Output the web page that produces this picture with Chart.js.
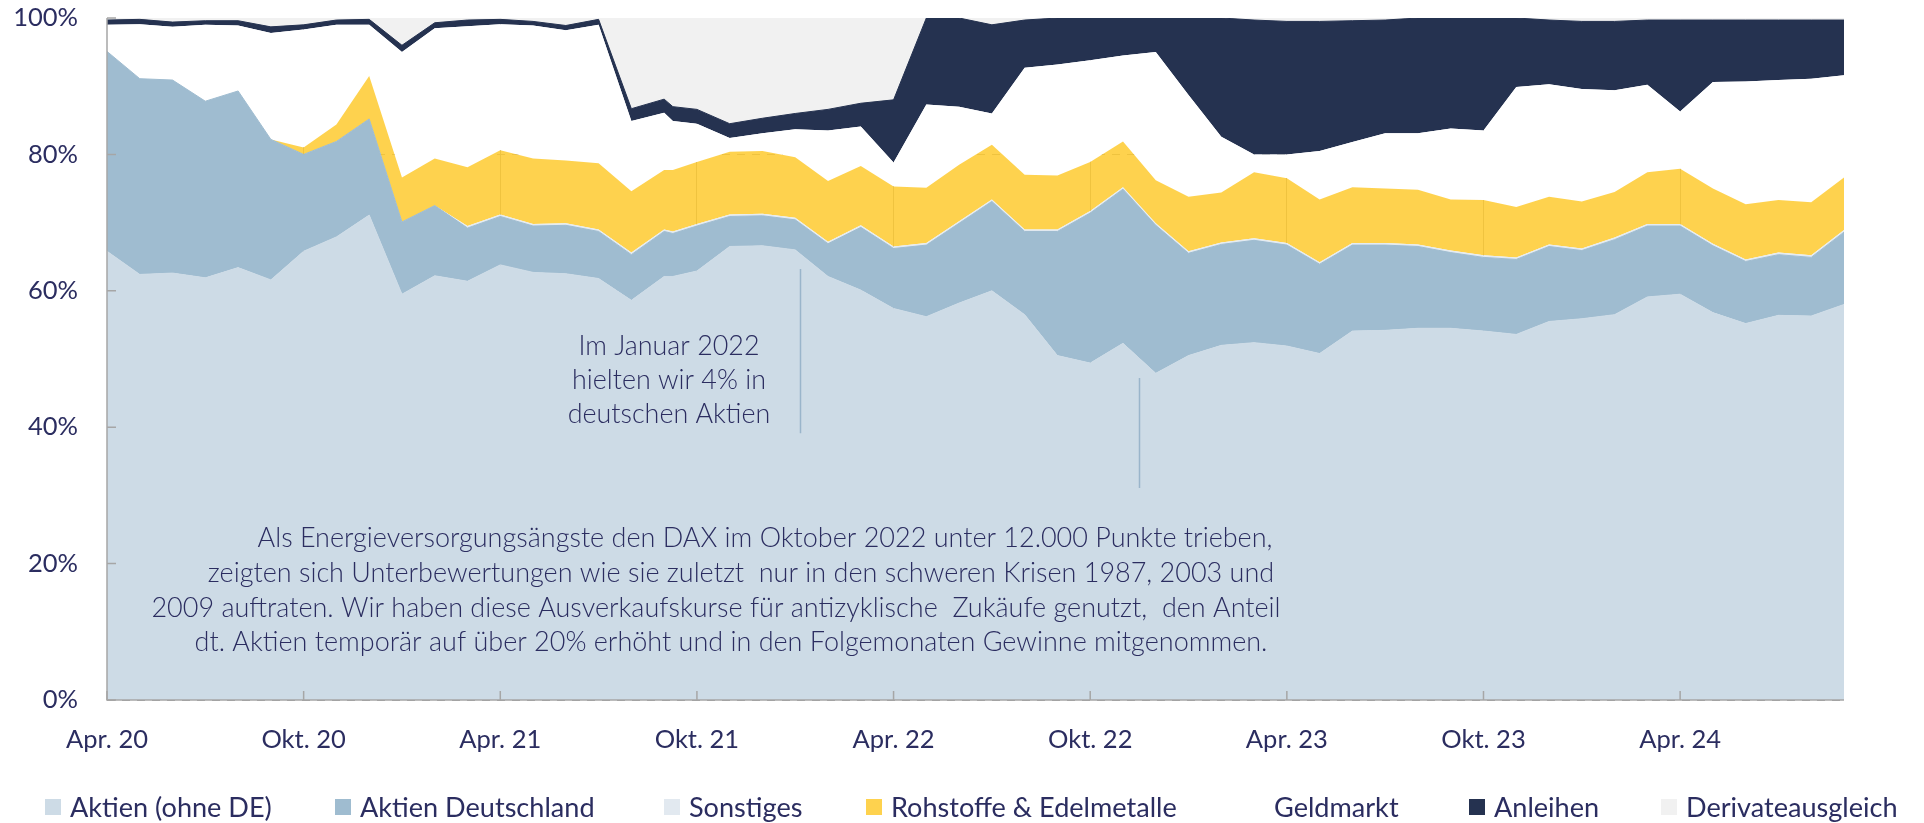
<!DOCTYPE html>
<html><head><meta charset="utf-8">
<script src="https://cdn.jsdelivr.net/npm/chart.js@4.4.1/dist/chart.umd.min.js"></script>
<style>html,body{margin:0;padding:0;background:#fff;overflow:hidden}#wrap{width:1924px;height:823px}</style>
</head><body><div id="wrap"><canvas id="c" width="1924" height="823"></canvas></div>
<script>
// ---- data ----
const dates = ['2020-04','2020-05','2020-06','2020-07','2020-08','2020-09','2020-10','2020-11','2020-12',
 '2021-01','2021-02','2021-03','2021-04','2021-05','2021-06','2021-07','2021-08','2021-09','2021-09-09','2021-10','2021-11','2021-12',
 '2022-01','2022-02','2022-03','2022-04','2022-05','2022-06','2022-07','2022-08','2022-09','2022-10','2022-11','2022-12',
 '2023-01','2023-02','2023-03','2023-04','2023-05','2023-06','2023-07','2023-08','2023-09','2023-10','2023-11','2023-12',
 '2024-01','2024-02','2024-03','2024-04','2024-05','2024-06','2024-07','2024-08','2024-09'];
const tickLabels = ['Apr. 20','Okt. 20','Apr. 21','Okt. 21','Apr. 22','Okt. 22','Apr. 23','Okt. 23','Apr. 24'];
const aktienOhneDE = [65.8,62.4,62.6,61.9,63.4,61.6,65.8,67.9,71.1,59.5,62.2,61.4,63.8,62.7,62.5,61.8,58.6,62.1,62.1,
 62.9,66.5,66.6,66.0,62.1,60.1,57.4,56.2,58.2,60.0,56.5,50.5,49.4,52.3,47.9,50.5,52.0,52.4,51.9,50.8,54.1,54.2,54.5,54.5,54.1,53.6,55.5,55.9,56.5,59.1,59.5,56.8,55.2,56.4,56.3,58.0];
const aktienDeutschland = [29.3,28.7,28.3,25.9,25.9,20.6,14.2,14.0,14.1,10.6,10.3,7.8,7.1,6.8,7.1,6.9,6.7,6.6,6.3,
 6.6,4.4,4.4,4.4,4.8,9.2,8.8,10.5,11.7,13.1,12.2,18.2,22.0,22.6,21.7,15.0,14.8,15.0,14.8,13.1,12.6,12.5,12.0,11.1,10.8,11.0,11.0,10.0,11.0,10.4,10.0,9.8,9.1,8.9,8.6,10.6];
const sonstiges = [0,0,0,0,0,0,0,0,0,0,0,0.3,0.3,0.3,0.3,0.3,0.3,0.3,0.3,
 0.3,0.3,0.3,0.3,0.3,0.3,0.3,0.3,0.3,0.3,0.3,0.3,0.3,0.3,0.3,0.3,0.3,0.3,0.3,0.3,0.3,0.3,0.3,0.3,0.3,0.3,0.3,0.3,0.3,0.3,0.3,0.3,0.3,0.3,0.3,0.3];
const rohstoffe = [0,0,0,0,0,0,1.0,2.5,6.3,6.5,6.9,8.6,9.4,9.6,9.2,9.7,9.0,8.7,9.0,
 9.1,9.2,9.2,8.9,8.9,8.7,8.8,8.1,8.3,8.0,8.0,7.9,7.2,6.7,6.3,8.0,7.3,9.7,9.5,9.2,8.2,8.0,8.0,7.5,8.1,7.4,7.0,6.9,6.7,7.6,8.1,8.1,8.1,7.7,7.8,7.7];
const geldmarkt = [3.9,8.0,7.8,11.2,9.6,15.6,17.3,14.6,7.5,18.4,19.1,20.7,18.5,19.5,19.1,20.3,10.3,8.4,7.2,
 5.6,2.0,2.6,4.1,7.4,5.8,3.5,12.2,8.5,4.6,15.7,16.3,14.9,12.6,18.8,14.9,8.2,2.6,3.5,7.1,6.6,8.1,8.3,10.4,10.2,17.6,16.5,16.5,14.9,12.8,8.4,15.6,18.0,17.6,18.1,15.0];
const anleihen = [0.7,0.7,0.7,0.6,0.7,0.9,0.7,0.7,0.8,1.0,0.8,0.9,0.7,0.6,0.7,0.8,1.8,2.0,2.1,
 2.1,2.1,2.2,2.3,3.1,3.4,9.2,12.7,13.0,13.0,7.0,6.8,6.2,5.5,5.0,11.3,17.4,19.7,19.5,19.0,17.8,16.6,16.9,16.2,16.5,10.1,9.4,9.9,10.1,9.5,13.4,9.1,9.0,8.8,8.6,8.1];
const derivateausgleich = [0.3,0.2,0.6,0.4,0.4,1.3,1.0,0.3,0.2,4.0,0.7,0.3,0.2,0.5,1.1,0.2,13.3,11.9,13.0,
 13.4,15.5,14.7,14.1,13.4,12.5,12.0,0,0,1.0,0.3,0,0,0,0,0,0,0.3,0.5,0.5,0.4,0.3,0,0,0,0,0.3,0.5,0.5,0.3,0.3,0.3,0.3,0.3,0.3,0.3];
const seriesNames = ['Aktien (ohne DE)','Aktien Deutschland','Sonstiges','Rohstoffe & Edelmetalle','Geldmarkt','Anleihen','Derivateausgleich'];
const note1 = ['Im Januar 2022','hielten wir 4% in','deutschen Aktien'];
const note2 = ['Als Energieversorgungsängste den DAX im Oktober 2022 unter 12.000 Punkte trieben,',
 'zeigten sich Unterbewertungen wie sie zuletzt  nur in den schweren Krisen 1987, 2003 und',
 '2009 auftraten. Wir haben diese Ausverkaufskurse für antizyklische  Zukäufe genutzt,  den Anteil',
 'dt. Aktien temporär auf über 20% erhöht und in den Folgemonaten Gewinne mitgenommen.'];

// ---- styles ----
const FAMILY = 'Lato, "Open Sans", "Noto Sans", sans-serif';
const TEXT = '#2b2d60';
const styles = [
 {fill:'#cddbe6', line:'#cddbe6', bw:1, legend:'#cddbe6'},
 {fill:'#9fbcd0', line:'#9fbcd0', bw:1, legend:'#9fbcd0'},
 {fill:'#e4ebf1', line:'#e4ebf1', bw:0, legend:'#e2e9f0'},
 {fill:'rgba(254,202,47,0.85)', line:'rgba(254,202,47,0.85)', bw:0, legend:'#fed24e'},
 {fill:'#ffffff', line:'#ffffff', bw:0, legend:'#ffffff'},
 {fill:'#253250', line:'#253250', bw:1, legend:'#253250'},
 {fill:'#f1f1f1', line:'#f1f1f1', bw:0, legend:'#f1f1f1'}
];
const values = [aktienOhneDE, aktienDeutschland, sonstiges, rohstoffe, geldmarkt, anleihen, derivateausgleich];

const monthPos = dates.map(d => { const p = d.split('-').map(Number); return (p[0]-2020)*12 + (p[1]-4) + (p.length > 2 ? (p[2]-1)/30 : 0); });

const mctx = document.createElement('canvas').getContext('2d');
function fit(text, w, weight) { mctx.font = weight + ' 100px ' + FAMILY; return 100 * w / mctx.measureText(text).width; }
const tickSize = fit('Apr. 20', 82, 400);
const legendSize = fit('Aktien (ohne DE)', 202, 400);
const note1Size = fit(note1[2], 203, 300);
const note2Size = fit(note2[2], 1128, 300);

const overlay = {
 id: 'overlay',
 afterDatasetsDraw(chart) {
  const ctx = chart.ctx, xs = chart.scales.x, ys = chart.scales.y, a = chart.chartArea;
  ctx.save();
  ctx.strokeStyle = '#a6a6a6'; ctx.lineWidth = 1.5;
  ctx.beginPath(); ctx.moveTo(a.left, a.top); ctx.lineTo(a.left, a.bottom); ctx.lineTo(a.right, a.bottom); ctx.stroke();
  ctx.beginPath();
  for (let v = 0; v <= 100; v += 20) { const y = ys.getPixelForValue(v); ctx.moveTo(a.left, y); ctx.lineTo(a.left + 9, y); }
  tickLabels.forEach((t, k) => { const x = xs.getPixelForValue(k * 6); ctx.moveTo(x, a.bottom); ctx.lineTo(x, a.bottom - 9); });
  ctx.stroke();
  ctx.strokeStyle = '#9ab5cb'; ctx.lineWidth = 1.5;
  ctx.beginPath();
  let x1 = Math.round(xs.getPixelForValue(21.15)) + 0.5;
  ctx.moveTo(x1, ys.getPixelForValue(63.2)); ctx.lineTo(x1, ys.getPixelForValue(39.1));
  let x2 = Math.round(xs.getPixelForValue(31.5)) + 0.5;
  ctx.moveTo(x2, ys.getPixelForValue(47.2)); ctx.lineTo(x2, ys.getPixelForValue(31.1));
  ctx.stroke();
  ctx.fillStyle = TEXT; ctx.textAlign = 'center'; ctx.textBaseline = 'alphabetic';
  ctx.font = '300 ' + note1Size.toFixed(1) + 'px ' + FAMILY;
  const n1c = 669, n1y = [355, 389, 423];
  note1.forEach((t, i) => ctx.fillText(t, n1c, n1y[i]));
  ctx.font = '300 ' + note2Size.toFixed(1) + 'px ' + FAMILY;
  const n2c = [765, 741, 716, 731], n2y = [547, 582, 617, 651];
  note2.forEach((t, i) => ctx.fillText(t, n2c[i], n2y[i]));
  ctx.restore();
 },
 afterDraw(chart) {
  const ctx = chart.ctx;
  ctx.save();
  const sx = [45, 335, 664, 866, 1249, 1469, 1661], cy = 807;
  ctx.font = '400 ' + legendSize.toFixed(1) + 'px ' + FAMILY;
  ctx.textBaseline = 'middle'; ctx.textAlign = 'left';
  seriesNames.forEach((n, i) => {
   ctx.fillStyle = styles[i].legend; ctx.fillRect(sx[i], cy - 8, 16, 16);
   ctx.fillStyle = TEXT; ctx.fillText(n, sx[i] + 25, cy + 1);
  });
  ctx.restore();
 }
};

new Chart(document.getElementById('c'), {
 type: 'line',
 data: {
  datasets: seriesNames.map((n, i) => ({
   label: n,
   data: values[i].map((v, k) => ({x: monthPos[k], y: v})),
   backgroundColor: styles[i].fill, borderColor: styles[i].line, borderWidth: styles[i].bw,
   pointRadius: 0, pointHoverRadius: 0, tension: 0, fill: i === 0 ? 'origin' : '-1'
  }))
 },
 options: {
  responsive: false, animation: false, devicePixelRatio: 1,
  layout: {padding: {top: 18, right: 80, left: 0, bottom: 0}},
  plugins: {legend: {display: false}, tooltip: {enabled: false}},
  scales: {
   x: {
    type: 'linear', min: 0, max: 53,
    grid: {drawTicks: false, color: '#9a9a9a', lineWidth: 1},
    border: {display: false},
    ticks: {stepSize: 6, includeBounds: false, autoSkip: false, maxRotation: 0, padding: 24, color: TEXT,
     font: {family: FAMILY, size: tickSize},
     callback: v => { const k = v / 6; return Number.isInteger(k) && tickLabels[k] ? tickLabels[k] : ''; }},
    afterFit: s => { s.height = 123; s.paddingLeft = 0; s.paddingRight = 0; s.paddingTop = 0; s.paddingBottom = 0; }
   },
   y: {
    stacked: true, min: 0, max: 100,
    grid: {drawTicks: false, color: '#9a9a9a', lineWidth: 1},
    border: {display: false, dash: [8, 7]},
    ticks: {stepSize: 20, padding: 29, color: TEXT, font: {family: FAMILY, size: tickSize}, callback: v => v + '%'},
    afterFit: s => { s.width = 107; s.paddingTop = 0; s.paddingBottom = 0; s.paddingLeft = 0; s.paddingRight = 0; }
   }
  }
 },
 plugins: [overlay]
});
</script></body></html>
